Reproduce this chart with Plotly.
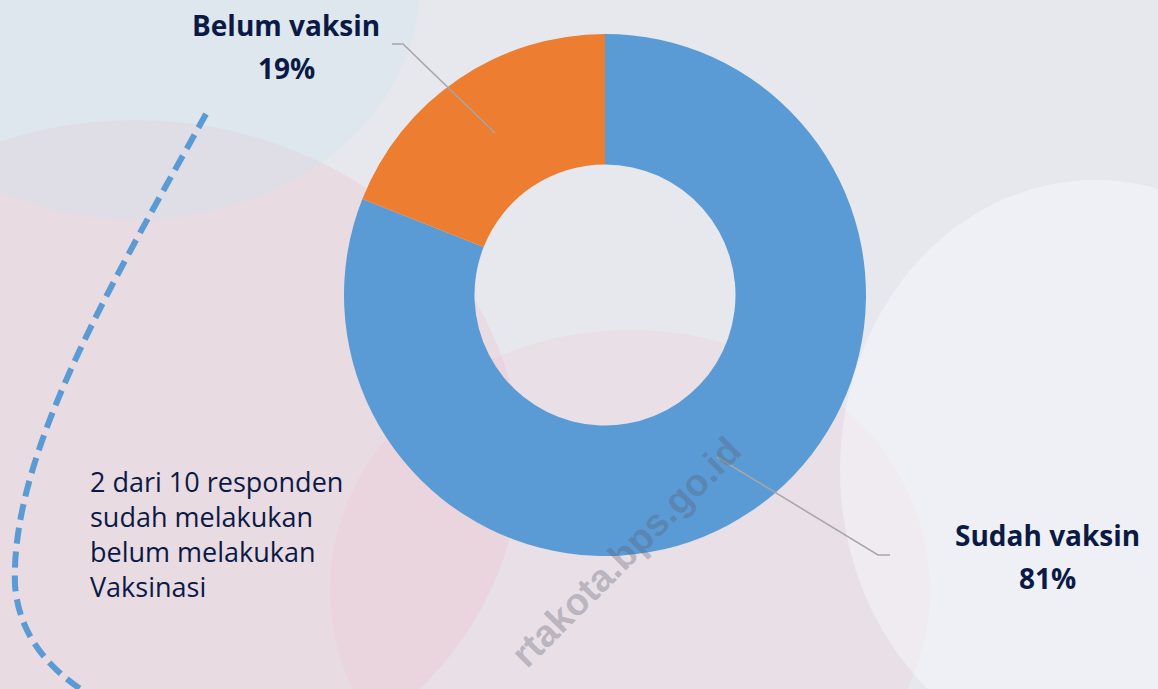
import plotly.graph_objects as go

categories = ["Sudah vaksin", "Belum vaksin"]
values = [81, 19]
colors = ["#5b9bd5", "#ed7d31"]
note_lines = ["2 dari 10 responden", "sudah melakukan", "belum melakukan", "Vaksinasi"]

W, H = 1158, 689
NAVY = "#0b1a45"
FONT = "Open Sans"

fig = go.Figure()

# hidden pixel-space axes for decorations
fig.add_trace(go.Scatter(x=[0, W], y=[0, H], mode="markers", marker=dict(opacity=0), hoverinfo="skip", showlegend=False))

fig.add_trace(go.Pie(
    labels=categories, values=values, hole=0.5, sort=False, direction="clockwise", rotation=0,
    marker=dict(colors=colors, line=dict(width=0)), textinfo="none", showlegend=False,
    domain=dict(x=[(605 - 261) / W, (605 + 261) / W], y=[(H - 556) / H, (H - 34) / H]),
))

# soft background tints (blurred photo impression)
fig.add_shape(type="circle", xref="x", yref="y", x0=-250, x1=520, y0=120, y1=800, fillcolor="rgba(240,175,188,0.22)", line_width=0, layer="below")
fig.add_shape(type="circle", xref="x", yref="y", x0=330, x1=930, y0=330, y1=850, fillcolor="rgba(240,185,198,0.18)", line_width=0, layer="below")
fig.add_shape(type="circle", xref="x", yref="y", x0=840, x1=1350, y0=180, y1=760, fillcolor="rgba(252,252,254,0.40)", line_width=0, layer="below")
fig.add_shape(type="circle", xref="x", yref="y", x0=-150, x1=420, y0=-250, y1=220, fillcolor="rgba(205,228,238,0.35)", line_width=0, layer="below")

# dashed curve
fig.add_shape(type="path", xref="x", yref="y",
              path="M 206 114 C 120 270, 10 450, 15 585 Q 20 650, 85 692",
              line=dict(color="#5b9bd5", width=6, dash="16px,8px"))

# leader lines
lc = "#a6a6a6"
fig.add_shape(type="path", xref="x", yref="y", path="M 392 44 L 403 44 L 495 133", line=dict(color=lc, width=1.5))
fig.add_shape(type="path", xref="x", yref="y", path="M 717 457 L 878 555 L 890 555", line=dict(color=lc, width=1.5))

pct = [f"{v}%" for v in values]
label_pos = {categories[1]: (286, 25), categories[0]: (1047, 535)}
for cat, p in zip(categories, pct):
    x, y = label_pos[cat]
    fig.add_annotation(x=x, y=y, xref="x", yref="y", text=f"<b>{cat}</b>", showarrow=False,
                       font=dict(family=FONT, size=28, color=NAVY))
    fig.add_annotation(x=x, y=y + 43, xref="x", yref="y", text=f"<b>{p}</b>", showarrow=False,
                       font=dict(family=FONT, size=28, color=NAVY))

fig.add_annotation(x=88, y=534, xref="x", yref="y", text="<br>".join(note_lines), xanchor="left",
                   align="left", showarrow=False, font=dict(family=FONT, size=27, color=NAVY))

# watermark
fig.add_annotation(x=626, y=552, xref="x", yref="y", text="<b>rtakota.bps.go.id</b>", textangle=-45,
                   showarrow=False, font=dict(family="Arial", size=38, color="rgba(90,90,105,0.33)"))

fig.update_xaxes(range=[0, W], visible=False, fixedrange=True)
fig.update_yaxes(range=[H, 0], visible=False, fixedrange=True)
fig.update_layout(width=W, height=H, margin=dict(l=0, r=0, t=0, b=0),
                  paper_bgcolor="#e7e8ee", plot_bgcolor="rgba(0,0,0,0)")

fig.write_html("out.html", config={"displayModeBar": False},
               post_script="document.body.style.margin='0';")
